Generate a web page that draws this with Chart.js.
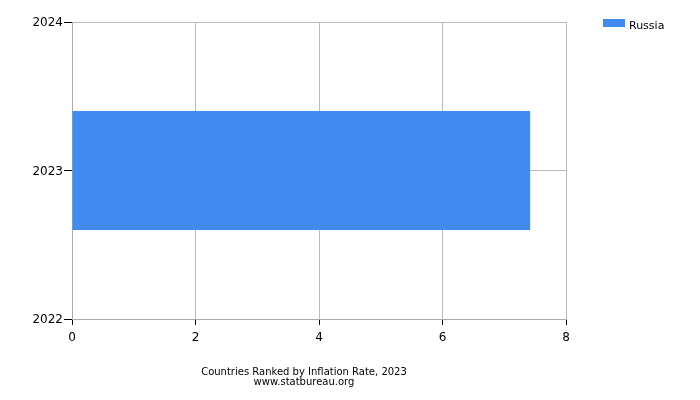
<!DOCTYPE html>
<html>
<head>
<meta charset="utf-8">
<script src="https://cdn.jsdelivr.net/npm/chart.js@4"></script>
<style>
  html, body { margin: 0; padding: 0; background: #fff; }
  canvas { display: block; }
</style>
</head>
<body>
<canvas id="chart" width="700" height="400"></canvas>
<script>
// Inflation rate by country, 2023
const years = [2023];
const countries = ['Russia'];
const inflationRates = [7.42];
const yearTicks = [2022, 2023, 2024];
const rateTicks = [0, 2, 4, 6, 8];

const FONT = 'DejaVu Sans';

// simple legend in the top right corner
const cornerLegend = {
  id: 'cornerLegend',
  afterDraw(chart) {
    const ctx = chart.ctx;
    ctx.save();
    chart.data.datasets.forEach((ds, i) => {
      const y = 19 + i * 16;
      ctx.fillStyle = ds.backgroundColor;
      ctx.fillRect(603, y, 22, 8);
      ctx.fillStyle = '#000';
      ctx.font = '11px "' + FONT + '"';
      ctx.textBaseline = 'alphabetic';
      ctx.fillText(ds.label, 629, y + 10);
    });
    ctx.restore();
  }
};

const ctx = document.getElementById('chart').getContext('2d');
const chart = new Chart(ctx, {
  type: 'bar',
  data: {
    datasets: [
      {
        label: countries[0],
        data: years.map((y, i) => ({ x: inflationRates[i], y: y })),
        backgroundColor: '#418bf0',
        borderWidth: 0,
        categoryPercentage: 1,
        barPercentage: 0.8
      }
    ]
  },
  options: {
    indexAxis: 'y',
    responsive: false,
    animation: false,
    devicePixelRatio: 1,
    layout: { padding: { left: 0, top: 22, right: 92, bottom: 0 } },
    plugins: {
      legend: { display: false },
      tooltip: { enabled: false },
      title: {
        display: true,
        position: 'bottom',
        text: ['Countries Ranked by Inflation Rate, 2023', 'www.statbureau.org'],
        color: '#000',
        font: { family: FONT, size: 10, weight: 'normal', lineHeight: '10px' },
        padding: { top: 0, bottom: 13 }
      }
    },
    scales: {
      x: {
        type: 'linear',
        min: 0,
        max: 8,
        afterBuildTicks: s => { s.ticks = rateTicks.map(v => ({ value: v })); },
        afterFit: s => { s.height = 48; },
        ticks: { color: '#000', font: { family: FONT, size: 12 }, padding: 6 },
        grid: { color: '#bbbbbb', tickColor: '#000', tickLength: 6 },
        border: { color: '#aaaaaa' }
      },
      y: {
        type: 'linear',
        min: 2022,
        max: 2024,
        offset: false,
        afterBuildTicks: s => { s.ticks = yearTicks.map(v => ({ value: v })); },
        afterFit: s => { s.width = 72; },
        ticks: { color: '#000', font: { family: FONT, size: 12 }, padding: 1, labelOffset: 1, callback: v => String(v) },
        grid: { offset: false, color: '#bbbbbb', tickColor: '#000', tickLength: 8 },
        border: { color: '#aaaaaa' }
      },
      // empty spacer on the right so the bottom title centres like the original
      spacer: {
        type: 'linear',
        position: 'right',
        afterFit: s => { s.width = 42; },
        ticks: { display: false },
        grid: { display: false },
        border: { display: false }
      }
    }
  },
  plugins: [cornerLegend]
});
</script>
</body>
</html>
